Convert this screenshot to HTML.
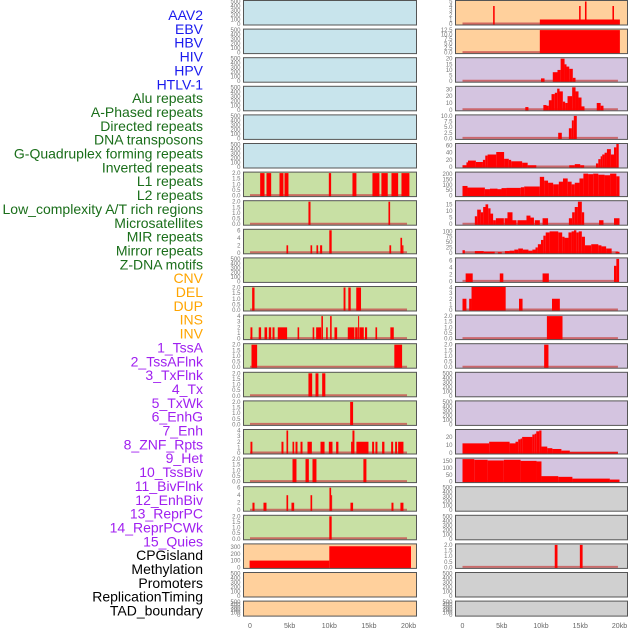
<!DOCTYPE html>
<html><head><meta charset="utf-8"><style>
html,body{margin:0;padding:0;background:#fff;}
svg{display:block;font-family:"Liberation Sans",sans-serif;}
</style></head><body>
<svg id="chart" width="630" height="630" viewBox="0 0 630 630"></svg>
<script>
const labels = ["AAV2","EBV","HBV","HIV","HPV","HTLV-1","Alu repeats","A-Phased repeats","Directed repeats","DNA transposons","G-Quadruplex forming repeats","Inverted repeats","L1 repeats","L2 repeats","Low_complexity A/T rich regions","Microsatellites","MIR repeats","Mirror repeats","Z-DNA motifs","CNV","DEL","DUP","INS","INV","1_TssA","2_TssAFlnk","3_TxFlnk","4_Tx","5_TxWk","6_EnhG","7_Enh","8_ZNF_Rpts","9_Het","10_TssBiv","11_BivFlnk","12_EnhBiv","13_ReprPC","14_ReprPCWk","15_Quies","CPGisland","Methylation","Promoters","ReplicationTiming","TAD_boundary"];
const labelColors = [].concat(Array(6).fill("#1a1aee"),Array(13).fill("#1a6e1a"),Array(5).fill("#ffa500"),Array(15).fill("#a020f0"),Array(5).fill("#000"));
const xTicks = [0,5,10,15,20];
const xTickLabels = ["0","5kb","10kb","15kb","20kb"];
const T500=[0,100,200,300,400,500], T2=[0,0.5,1,1.5,2], T6=[0,2,4,6], T4=[0,1,2,3,4];
const leftTicks = [T500,T500,T500,T500,T500,T500,T2,T2,T6,T500,T2,T4,T2,T2,T2,T4,T2,T6,T2,[0,100,200,300],T500,T500];
const leftMax = [500,500,500,500,500,500,2,2,6,500,2,4,2,2,2,4,2,6,2,330,500,500];
const rightTicks = [[0,1,2,3,4,5],[0,2.5,5,7.5,10,12.5],[0,5,10,15,20],[0,10,20,30],[0,2.5,5,7.5,10],[0,20,40,60],[0,50,100,150,200],[0,5,10,15],[0,25,50,75,100],T6,T4,T2,T2,T500,T500,[0,10,20],[0,50,100,150],T500,T500,T2,T500,T500];
const rightMax = [5,12.5,20,33,10,63,210,17,105,6.5,4,2,2,500,500,28,165,500,500,2,500,500];
const leftBg = [].concat(Array(6).fill("#c8e4ec"),Array(13).fill("#c8e0a4"),Array(3).fill("#ffd09c"));
const rightBg = [].concat(Array(2).fill("#ffd09c"),Array(15).fill("#d4c4e0"),Array(5).fill("#d0d0d0"));
const leftSegs = [[],[],[],[],[],[],
[[1.28,1.83,2],[2.08,2.67,2],[3.72,4.22,2],[4.35,4.85,2],[9.94,10.23,2],[12.92,13.42,2],[15.44,16.32,2],[16.57,17.37,2],[17.84,18.68,2],[19.1,20.1,2]],
[[7.37,7.63,2],[17.46,17.67,2]],
[[4.6,4.81,2],[7.63,7.84,2],[8.38,8.59,2],[8.84,9.1,2],[10.0,10.3,6],[17.58,17.8,2],[18.97,19.18,4],[19.18,19.35,2]],
[],
[[0.27,0.57,2],[11.8,12.04,2],[12.4,12.7,2],[13.4,14.0,2]],
[[0.06,0.3,2],[1.1,1.4,2],[1.83,2.16,2],[2.37,2.67,2],[2.84,3.09,2],[3.5,4.68,2],[6.0,6.2,2],[7.9,8.1,2],[8.34,8.97,2],[9.0,9.2,4],[9.6,9.8,2],[10.1,10.3,4],[10.65,10.99,2],[12.33,13.17,2],[13.26,13.59,2],[13.63,13.76,4],[13.8,14.35,2],[14.5,14.77,2],[15.82,16.03,2],[17.7,18.13,2]],
[[0.19,0.9,2],[18.2,19.18,2]],
[[7.37,7.84,2],[8.26,8.63,2],[9.1,9.5,2]],
[[12.63,13.0,2]],
[[0.06,0.3,2],[3.97,4.22,2],[4.6,4.81,4],[5.36,5.57,2],[5.74,5.99,2],[6.37,6.62,2],[7.25,7.8,2],[8.89,9.4,2],[9.94,10.4,2],[10.86,11.15,2],[12.75,12.92,2],[12.92,13.17,4],[13.42,14.94,2],[15.4,15.65,2],[15.82,16.07,2],[16.66,16.95,2],[17.8,18.05,2],[18.3,18.55,2],[18.68,19.35,2]],
[[5.36,5.86,2],[7.0,7.42,2],[7.88,8.38,2],[14.3,14.68,2]],
[[0.31,0.57,2],[1.7,2.08,2],[4.6,4.81,4],[5.23,5.57,2],[7.63,7.84,4],[10.02,10.23,6],[10.23,10.35,4],[12.67,13.0,2],[17.84,18.09,2],[18.97,19.35,2]],
[[10.0,10.3,2]],
[[-0.05,10,100],[10,20.3,310]],
[],[]];
const rightSegs = [
[[3.9,4.1,4],[9.85,20.05,1],[14.85,15.05,4],[15.6,15.8,5],[19.1,19.3,4]],
[[9.85,20.05,12.5]],
[[10.0,10.45,2.5],[11.5,12.1,8],[12.1,12.5,10],[12.5,13.0,20],[13.0,13.25,15],[13.25,13.6,13],[13.6,14.05,11],[14.05,14.4,3]],
[[8.0,8.4,4],[10.3,10.7,7],[10.7,11.0,6],[11.0,11.34,14],[11.34,11.76,23],[11.76,12.06,25],[12.06,12.36,31],[12.36,12.78,27],[12.78,13.08,12],[13.08,13.38,10],[13.38,13.97,20],[13.97,14.4,33],[14.4,14.78,27],[14.78,15.16,18],[15.16,15.54,5],[17.1,17.6,10],[17.6,17.96,6]],
[[12.19,12.65,2.5],[13.55,13.93,4.5],[13.93,14.18,8],[14.18,14.56,10]],
[[0,0.5,5],[0.5,0.7,13],[0.7,1.7,18],[1.7,2.6,14],[2.6,2.9,20],[2.9,3.2,32],[3.2,4.3,35],[4.3,5.3,42],[5.3,5.9,23],[5.9,6.2,20],[6.2,7.6,16],[7.6,8.3,12],[8.3,9.4,5],[13.6,14.3,5],[14.3,15.0,8],[15.0,15.5,5],[17.0,17.3,10],[17.3,17.6,22],[17.6,17.8,30],[17.8,18.1,35],[18.1,18.4,40],[18.4,18.9,50],[18.9,19.3,35],[19.3,19.6,55],[19.6,19.9,65]],
[[0,0.64,90],[0.64,2.85,75],[2.85,3.5,60],[3.5,4.46,65],[4.46,4.97,60],[4.97,5.6,70],[5.6,7.43,72],[7.43,7.86,78],[7.86,9.85,85],[9.85,10.4,175],[10.4,10.9,140],[10.9,11.55,120],[11.55,12.27,105],[12.27,12.8,130],[12.8,13.4,160],[13.4,13.9,130],[13.9,14.3,105],[14.3,14.9,120],[14.9,15.4,160],[15.4,16.0,205],[16.0,16.65,200],[16.65,17.3,205],[17.3,18.1,195],[18.1,18.8,190],[18.8,19.6,205],[19.6,20.0,180]],
[[1.57,1.87,6],[1.87,2.34,11],[2.34,2.63,9],[2.63,2.93,13],[2.93,3.27,15],[3.27,3.57,12],[3.57,3.9,8],[3.9,4.25,3],[4.25,5.27,4.5],[5.35,5.73,4.5],[5.73,6.37,9],[6.37,6.88,3],[7.0,8.15,3],[8.15,8.66,6.5],[8.66,9.1,5],[9.2,9.85,3],[10.2,10.9,4.5],[13.55,13.97,4.5],[13.97,14.3,9],[14.3,14.7,13],[14.7,15.2,17],[15.2,15.5,9],[17.4,17.96,3],[19.3,20.0,4.5]],
[[0,0.3,12],[1.57,2.7,8],[2.7,4.1,5],[4.5,5.0,3],[5.4,6.0,8],[6.0,6.6,10],[6.6,7.1,15],[7.1,7.7,20],[7.7,8.4,15],[8.4,8.9,10],[8.9,9.3,15],[9.3,9.6,25],[9.6,10.0,40],[10.0,10.3,60],[10.3,10.6,80],[10.6,11.1,95],[11.1,12.2,100],[12.2,12.7,95],[12.7,13.0,75],[13.0,13.5,70],[13.5,13.9,95],[13.9,14.2,100],[14.2,14.5,105],[14.5,14.8,95],[14.8,15.2,100],[15.2,15.6,75],[15.6,16.4,35],[16.4,17.3,40],[17.3,17.7,35],[17.7,18.3,30],[18.3,19.0,20],[19.5,20.0,5]],
[[0.4,1.3,2.3],[4.75,5.2,2.3],[10.2,11.0,2.3],[19.3,19.6,4.5],[19.6,19.95,6.5]],
[[0,0.5,2],[0.85,1.15,2],[1.15,5.5,4.5],[7.2,7.65,2],[11.4,12.4,2]],
[[10.75,12.74,2]],
[[10.4,10.95,2]],
[],[],
[[0,3.4,12],[3.4,6.0,14],[6.0,6.75,12],[6.75,7.1,14],[7.1,7.4,17],[7.4,7.6,18],[7.6,8.9,20],[8.9,9.2,23],[9.2,9.4,24],[9.4,9.77,27],[9.77,10.06,28],[10.06,10.8,8],[10.8,11.45,6],[11.45,12.6,5],[12.6,13.67,3],[13.67,19.8,1]],
[[0,1.5,165],[1.5,3.2,160],[3.2,5.27,155],[5.27,7.4,160],[7.4,9.43,152],[9.43,10.06,148],[10.06,12.2,40],[12.2,14.0,35],[14.0,18.77,22],[18.77,20.0,15]],
[],[],
[[11.75,12.1,2],[14.95,15.3,2]],
[],[]];

const svg = document.getElementById('chart');
const NS = "http://www.w3.org/2000/svg";
function mk(tag, attrs, parent){ const e=document.createElementNS(NS,tag); for(const k in attrs) e.setAttribute(k,attrs[k]); (parent||svg).appendChild(e); return e; }
function rowTop(r){ return 0.5 + r*28.6; }
function rowH(r){ return r===21 ? 15 : 24.5; }
const cols = [
  {x0:243.5, x1:416.5, kx:(kb)=>250+kb*7.93, segs:leftSegs, ticks:leftTicks, max:leftMax, bg:leftBg, off:0, name:'left'},
  {x0:455.5, x1:627.5, kx:(kb)=>462.5+kb*7.85, segs:rightSegs, ticks:rightTicks, max:rightMax, bg:rightBg, off:22, name:'right'}
];
function fmt(v, ticks){ const dec = ticks.some(t=>t%1!==0); if(!dec) return String(v); const s=ticks.some(t=>(t*10)%5!==0&&t%1!==0)?2:1; return v.toFixed(1); }

// labels
labels.forEach((lab,i)=>{
  const t = mk('text',{x:203, y:15+i*13.85+5, 'text-anchor':'end', 'font-size':'14', fill:labelColors[i]});
  t.textContent = lab;
  
  
});

cols.forEach(c=>{
  for(let r=0;r<22;r++){
    const top=rowTop(r), h=rowH(r), bot=top+h, mx=c.max[r];
    const g = mk('g',{});
    
    
    const clipId='clip-'+c.name+r;
    const cp = mk('clipPath',{id:clipId},g);
    mk('rect',{x:c.x0,y:top,width:c.x1-c.x0,height:h},cp);
    mk('rect',{x:c.x0,y:top,width:c.x1-c.x0,height:h,fill:c.bg[r]},g);
    const vy = v => bot - 1 - (v/mx)*(h-2);
    const segs = c.segs[r];
    const dg = mk('g',{'clip-path':'url(#'+clipId+')'},g);
    if(segs.length && !(c.name==='left' && r===19)){
      const bl = mk('line',{x1:c.kx(0),x2:c.kx(19.8),y1:bot-1.5,y2:bot-1.5,stroke:'#c85050','stroke-width':2,opacity:0.8},dg);
      
      
    }
    segs.forEach(s=>{
      const x=c.kx(s[0]), w=c.kx(s[1])-x, y=vy(s[2]);
      const b = mk('rect',{x:x,y:y,width:Math.max(w,1),height:bot-y,fill:'#ff0000'},dg);
      
      
    });
    mk('rect',{x:c.x0,y:top,width:c.x1-c.x0,height:h,fill:'none',stroke:'#555','stroke-width':1},g);
    const tk = c.ticks[r];
    tk.forEach(v=>{
      const t = mk('text',{x:c.x0-3,y:vy(v)+2,'text-anchor':'end','font-size':'6',fill:'#777'},g);
      t.textContent = fmt(v,tk);
      
      
    });
  }
  xTicks.forEach((v,i)=>{
    const t = mk('text',{x:c.kx(v),y:628,'text-anchor':'middle','font-size':'7',fill:'#666'});
    t.textContent = xTickLabels[i];
    
    
  });
});
</script>
</body></html>
